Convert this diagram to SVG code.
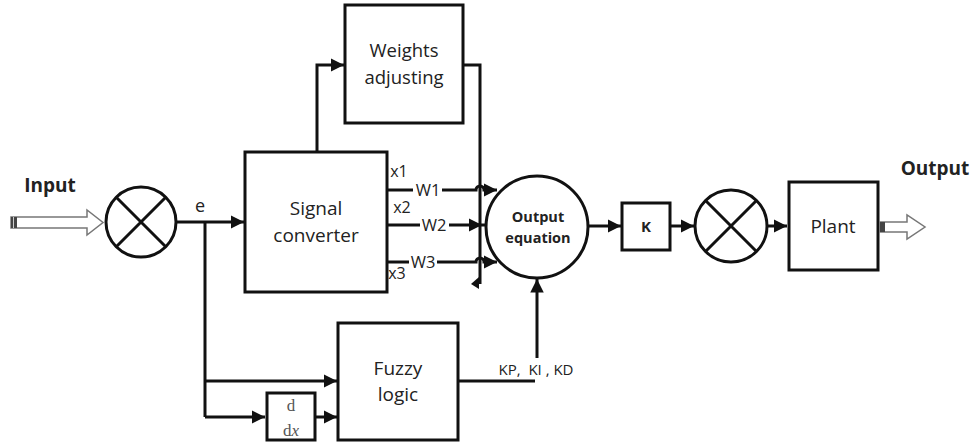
<svg xmlns="http://www.w3.org/2000/svg" width="972" height="445" viewBox="0 0 972 445">
<defs>
<marker id="ah" viewBox="0 0 10 10" refX="10" refY="5" markerWidth="4.5" markerHeight="4.5" orient="auto" markerUnits="strokeWidth">
<path d="M0,0 L10,5 L0,10 z" fill="#111"/>
</marker>
</defs>
<style>
.box{fill:#fff;stroke:#111;stroke-width:3}
.ln{fill:none;stroke:#111;stroke-width:3}
.arr{fill:none;stroke:#111;stroke-width:3;marker-end:url(#ah)}
.t{font-family:"Open Sans","Liberation Sans",sans-serif;fill:#222;text-anchor:middle}
.b{font-weight:bold}
.hollow{fill:#fff;stroke:#777;stroke-width:1.5}
</style>
<rect width="972" height="445" fill="#fff"/>

<g id="connectors">
<path class="arr" d="M177,222 H244"/>
<path class="ln" d="M205,222 V417"/>
<path class="arr" d="M205,381 H337"/>
<path class="arr" d="M205,417 H265"/>
<path class="arr" d="M267,417 H337"/>
<path class="arr" d="M317,152 V65 H344"/>
<path class="ln" d="M463,65 H480 V284"/>
<polygon points="471,284 479,277 479,289" fill="#111"/>
<path class="arr" d="M387,190 H413 M442,190 H476 A4,4 0 0 1 484,190 H497"/>
<path class="arr" d="M387,225 H420 M449,225 H482"/>
<path class="ln" d="M482,225 H488"/>
<path class="arr" d="M387,262 H409 M437,262 H476 A4,4 0 0 1 484,262 H497"/>
<path class="ln" d="M458,381 H535"/>
<path class="arr" d="M537,358 V279"/>
<path class="arr" d="M589,226 H621"/>
<path class="arr" d="M670,226 H694"/>
<path class="arr" d="M767,226 H787"/>
</g>

<g id="input">
<text class="t b" x="50" y="192" font-size="19">Input</text>
<path class="hollow" d="M11,217 H87 V210 L103,222.5 L87,235 V228 H11 Z"/>
<rect x="11" y="217" width="6" height="11" fill="#444"/>
<line x1="13.5" y1="217" x2="13.5" y2="228" stroke="#ccc" stroke-width="1"/>
</g>

<g id="sum1">
<circle cx="141" cy="222" r="35" fill="#fff" stroke="#111" stroke-width="3"/>
<path class="ln" d="M116,197 L166,247 M166,197 L116,247"/>
<text class="t" x="200" y="212" font-size="18">e</text>
</g>

<g id="signal-converter">
<rect class="box" x="245" y="152" width="142" height="140"/>
<text class="t" x="316" y="215" font-size="19">Signal</text>
<text class="t" x="316" y="242" font-size="19">converter</text>
</g>

<g id="labels-x">
<text class="t" x="399" y="177" font-size="16">x1</text>
<text class="t" x="428" y="196" font-size="16.5">W1</text>
<text class="t" x="402" y="213" font-size="16">x2</text>
<text class="t" x="434" y="231" font-size="16.5">W2</text>
<text class="t" x="423" y="268" font-size="16.5">W3</text>
<text class="t" x="397" y="279" font-size="16">x3</text>
</g>

<g id="weights-adjusting">
<rect class="box" x="345" y="5" width="118" height="118"/>
<text class="t" x="404" y="57" font-size="18.5">Weights</text>
<text class="t" x="404" y="84" font-size="18.5">adjusting</text>
</g>

<g id="output-equation">
<circle cx="537" cy="227" r="51" fill="#fff" stroke="#111" stroke-width="3"/>
<text class="t b" x="538" y="222" font-size="14.5">Output</text>
<text class="t b" x="538" y="243" font-size="14.5">equation</text>
</g>

<g id="k">
<rect class="box" x="622" y="203" width="48" height="47"/>
<text class="t b" x="646" y="232" font-size="15">K</text>
</g>

<g id="sum2">
<circle cx="731" cy="226" r="36" fill="#fff" stroke="#111" stroke-width="3"/>
<path class="ln" d="M705.5,200.5 L756.5,251.5 M756.5,200.5 L705.5,251.5"/>
</g>

<g id="plant">
<rect class="box" x="789" y="182" width="89" height="88"/>
<text class="t" x="833" y="233" font-size="19">Plant</text>
</g>

<g id="output">
<text class="t b" x="935" y="175" font-size="19">Output</text>
<path class="hollow" d="M880,222 H907 V215 L925,227 L907,239 V232 H880 Z"/>
<rect x="880" y="222" width="5" height="10" fill="#444"/>
</g>

<g id="fuzzy-logic">
<rect class="box" x="338" y="323" width="120" height="117"/>
<text class="t" x="398" y="375" font-size="19">Fuzzy</text>
<text class="t" x="398" y="401" font-size="19">logic</text>
<text class="t" x="536" y="375" font-size="15" xml:space="preserve">KP,  KI , KD</text>
</g>

<g id="derivative">
<rect class="box" x="267" y="393" width="48" height="47"/>
<text x="291" y="411" font-size="17" text-anchor="middle" font-family="'Liberation Serif',serif" fill="#555">d</text>
<text x="291" y="436" font-size="17" text-anchor="middle" font-family="'Liberation Serif',serif" fill="#555">d<tspan font-style="italic">x</tspan></text>
</g>
</svg>
